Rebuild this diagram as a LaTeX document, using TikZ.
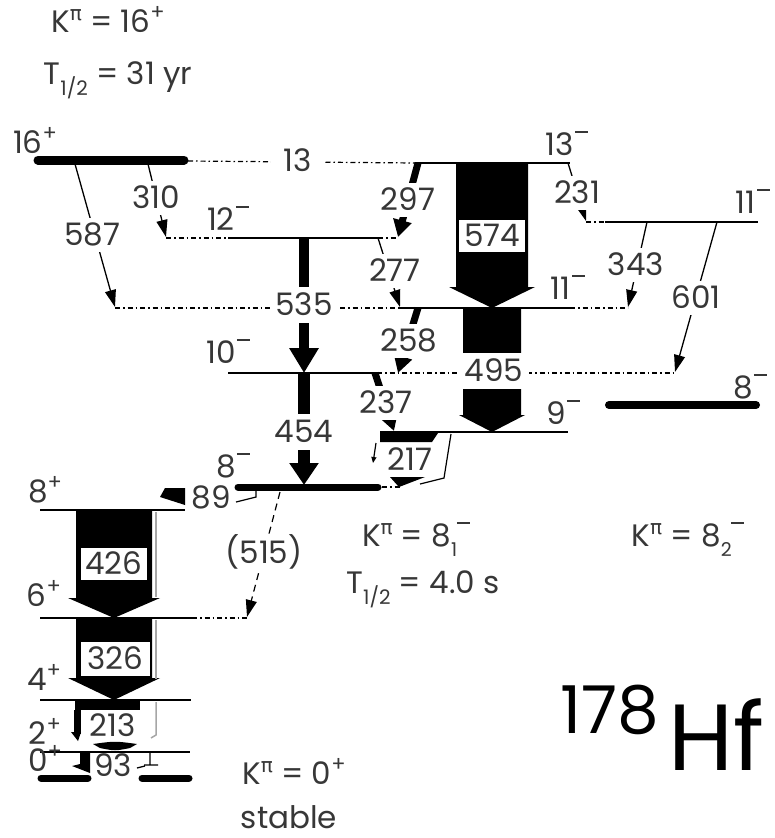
\documentclass[tikz,border=0pt]{standalone}
\usepackage{fontspec}
\setmainfont{Poppins}
\newfontfamily\grf{DejaVu Sans}
\usetikzlibrary{arrows.meta}
\definecolor{txt}{RGB}{55,55,55}
\newcommand\pl{\raisebox{0.42em}{\fontsize{21}{21}\selectfont+}}
\newcommand\mn{\kern0.04em\raisebox{0.74em}{\rule{0.42em}{0.06em}}}
\newcommand\Kpi{K\raisebox{0.40em}{\fontsize{20}{20}\grf π}}
\newcommand\Thalf{T\raisebox{-0.36em}{\fontsize{20}{20}\selectfont 1/2}}
\newcommand\barrow[6]{%
  \fill (#1-#5,#2) -- (#1+#5,#2) -- (#1+#5,#3) -- (#1+#6,#3) -- (#1,#4) -- (#1-#6,#3) -- (#1-#5,#3) -- cycle;}
\begin{document}
\begin{tikzpicture}[x=1pt,y=-1pt,
  every node/.style={text=txt,font=\fontsize{31}{33}\selectfont,inner sep=0pt},
  lev/.style={line width=1.5pt},
  blev/.style={line width=8pt,line cap=round},
  dotl/.style={line width=1.2pt,dash pattern=on 5pt off 3pt on 1.5pt off 3pt},
  tr/.style={line width=1.3pt,-{Triangle[length=17pt,width=11pt]}},
  ttr/.style={line width=7pt,-{Triangle[length=17pt,width=18pt]}},
  lab/.style={text height=21.5pt,text depth=0pt},
  num/.style={lab,fill=white,inner xsep=2pt,inner ysep=6.5pt},
  bx/.style={lab,fill=white,draw=black,line width=0.6pt,minimum width=67pt,minimum height=33pt,inner sep=0pt},
  gl/.style={line width=1.5pt,draw=black!35}
]
\useasboundingbox (0,0) rectangle (774,838);
% ---------------- levels
\coordinate (a16) at (38,160); \coordinate (b16) at (184,160);
\draw[line width=9pt,line cap=round] (a16) -- (b16);
\coordinate (d13a) at (188,161); \coordinate (d13b) at (415,163); \coordinate (e13) at (570,163);
\draw[dotl] (d13a) -- (d13b); \draw[lev] (d13b) -- (e13);
\coordinate (a12) at (166,238); \coordinate (b12) at (228,238); \coordinate (c12) at (378,238); \coordinate (d12) at (398,238);
\draw[dotl] (a12) -- (b12); \draw[lev] (b12) -- (c12); \draw[dotl] (c12) -- (d12);
\coordinate (a11r) at (586,222); \coordinate (b11r) at (605,222); \coordinate (c11r) at (758,222);
\draw[dotl] (a11r) -- (b11r); \draw[lev] (b11r) -- (c11r);
\coordinate (a11) at (115,308); \coordinate (b11) at (398,308); \coordinate (c11) at (570,308); \coordinate (d11) at (628,308);
\draw[dotl] (a11) -- (b11); \draw[lev] (b11) -- (c11); \draw[dotl] (c11) -- (d11);
\coordinate (a10) at (228,373); \coordinate (b10) at (377,373); \coordinate (c10) at (676,373);
\draw[lev] (a10) -- (b10); \draw[dotl] (b10) -- (c10);
\coordinate (a9) at (380,432); \coordinate (b9) at (568,432);
\draw[lev] (a9) -- (b9);
\coordinate (a8r) at (609,405); \coordinate (b8r) at (756,405);
\draw[blev] (a8r) -- (b8r);
\coordinate (a8) at (238,487); \coordinate (b8) at (378,487); \coordinate (c8) at (400,487);
\draw[line width=7pt,line cap=round] (a8) -- (b8); \draw[dotl] (b8) ++(4,0) -- (c8);
\coordinate (a8p) at (40,510); \coordinate (b8p) at (185,510);
\draw[lev] (a8p) -- (b8p);
\coordinate (a6) at (40,618); \coordinate (b6) at (192,618); \coordinate (c6) at (247,618);
\draw[lev] (a6) -- (b6); \draw[dotl] (b6) -- (c6);
\coordinate (a4) at (40,700); \coordinate (b4) at (191,700);
\draw[lev] (a4) -- (b4);
\coordinate (a2) at (40,752); \coordinate (b2) at (190,752);
\draw[lev] (a2) -- (b2);
\coordinate (a0) at (41,778); \coordinate (b0) at (88,778); \coordinate (c0) at (142,778); \coordinate (d0) at (189,778);
\draw[line width=7pt,line cap=round] (a0) -- (b0); \draw[line width=7pt,line cap=round] (c0) -- (d0);
% ---------------- big arrows
\barrow{492}{163}{287}{308}{36}{43}
\barrow{492}{308}{415}{432}{29}{33}
\barrow{114}{510}{598}{618}{38}{46}
\barrow{114}{618}{678}{700}{38}{46}
\draw[gl] (156,512) -- (156,597);
\draw[gl] (156,620) -- (156,679);
\draw[gl] (156,702) -- (156,735) -- (151,738);
% ---------------- thin and thick transitions
\draw[tr] (75,164) -- (115,307);
\draw[tr] (148,164) -- (166,237);
\draw[ttr] (418,163) -- (398,237);
\draw[tr] (378,238) -- (400,307);
\draw[tr] (568,163) -- (586,221);
\draw[tr] (647,222) -- (628,307);
\draw[tr] (717,222) -- (675,372);
\draw[line width=10pt,-{Triangle[length=25pt,width=28pt]}] (304,238) -- (304,373);
\draw[line width=12pt,-{Triangle[length=22pt,width=28pt]}] (304,373) -- (304,485);
\draw[ttr] (418,308) -- (398,373);
\draw[ttr] (375,373) -- (394,431);
\draw[line width=1.2pt,dash pattern=on 7pt off 5pt,-{Triangle[length=17pt,width=11pt]}] (280,492) -- (247,617);
% 217
\fill (380,433) -- (438,433) -- (432,442) -- (380,442) -- cycle;
\draw[line width=1.2pt,-{Triangle[length=6pt,width=5pt]}] (376,443) -- (373,463);
\draw[line width=1.2pt] (451,434) -- (444,478) -- (420,484);
\fill (390,477) -- (425,477) -- (399,487) -- cycle;
% 89
\fill (165,488) -- (185,488) -- (185,505) -- (160,497) -- cycle;
\draw[line width=1.2pt] (256,491) -- (256,497) -- (236,502);
% 213
\fill (75,701) rectangle (140,710);
\fill (74,710) rectangle (81,734);
\fill (71,732) -- (81,732) -- (78,741) -- cycle;
\fill (93,744) .. controls (115,741) .. (137,744) -- (130,748) .. controls (115,751) .. (100,748) -- cycle;
% 93
\fill (80,753) -- (90,753) -- (90,773) -- (72,766) -- (80,764) -- cycle;
\draw[line width=1.3pt] (150,753) -- (150,765) (144,765) -- (158,765) (137,768) -- (145,766);
% ---------------- transition labels
\node[num] (t587) at (92,235) {587};
\node[num] (t310) at (156,198) {310};
\node[num] (t297) at (408,200) {297};
\node[num] (t277) at (395,271) {277};
\node[num] (t231) at (577,193) {231};
\node[num] (t343) at (636,265) {343};
\node[num] (t601) at (696,298) {601};
\node[num,inner xsep=4pt,inner ysep=7.5pt] (t535) at (304,305) {535};
\node[num,inner ysep=7.5pt] (t454) at (304,432) {454};
\node[num] (t258) at (409,341) {258};
\node[num] (t237) at (386,403) {237};
\node[num,inner xsep=6pt,inner ysep=7.5pt] (t495) at (494,371) {495};
\node[num] (t515) at (264,553) {(515)};
\node[bx] (t574) at (492,236) {574};
\node[bx] (t426) at (114,564) {426};
\node[bx,minimum width=70pt,minimum height=35pt] (t326) at (115,659) {326};
\node[num,minimum width=56pt,inner ysep=3pt] (t213) at (113,726) {213};
\node[lab] (t217) at (410,460) {217};
\node[lab] (t89) at (211,498) {89};
\node[lab] (t93) at (113,766) {93};
\node[num,inner xsep=13pt,inner ysep=2pt] (t13) at (298,161) {13};
% ---------------- level labels
\node[lab] (l16) at (35,143) {16\pl};
\node[lab] (l13) at (567,145) {13\mn};
\node[lab] (l12) at (228,220) {12\mn};
\node[lab] (l11r) at (753,203) {11\mn};
\node[lab] (l11) at (568,289) {11\mn};
\node[lab] (l10) at (228,353) {10\mn};
\node[lab] (l9) at (563,414) {9\mn};
\node[lab] (l8r) at (750,388) {8\mn};
\node[lab] (l8) at (233,467) {8\mn};
\node[lab] (l8p) at (45,492) {8\pl};
\node[lab] (l6) at (44,596) {6\pl};
\node[lab] (l4) at (44,680) {4\pl};
\node[lab] (l2) at (45,734) {2\pl};
\node[lab] (l0) at (45,761) {0\pl};
% ---------------- band labels
\node[lab] (k16) at (108,22) {\Kpi\ = 16\pl};
\node[lab] (h16) at (118,74) {\Thalf\ = 31 yr};
\node[lab] (k81) at (416,536) {\Kpi\ = 8\raisebox{-0.32em}{\fontsize{19}{19}\selectfont 1}\kern-0.05em\mn};
\node[lab] (h81) at (423,583) {\Thalf\ = 4.0 s};
\node[lab] (k82) at (688,536) {\Kpi\ = 8\raisebox{-0.32em}{\fontsize{19}{19}\selectfont 2}\kern-0.05em\mn};
\node[lab] (k0) at (294,774) {\Kpi\ = 0\pl};
\node[anchor=base] (st) at (289,828) {stable};
\node[anchor=base west,text=black] (iso) at (560,733) {\fontsize{66}{66}\selectfont 178};
\node[anchor=base west,text=black] (hf) at (668,770) {\fontsize{94}{94}\selectfont Hf};
\end{tikzpicture}
\end{document}
